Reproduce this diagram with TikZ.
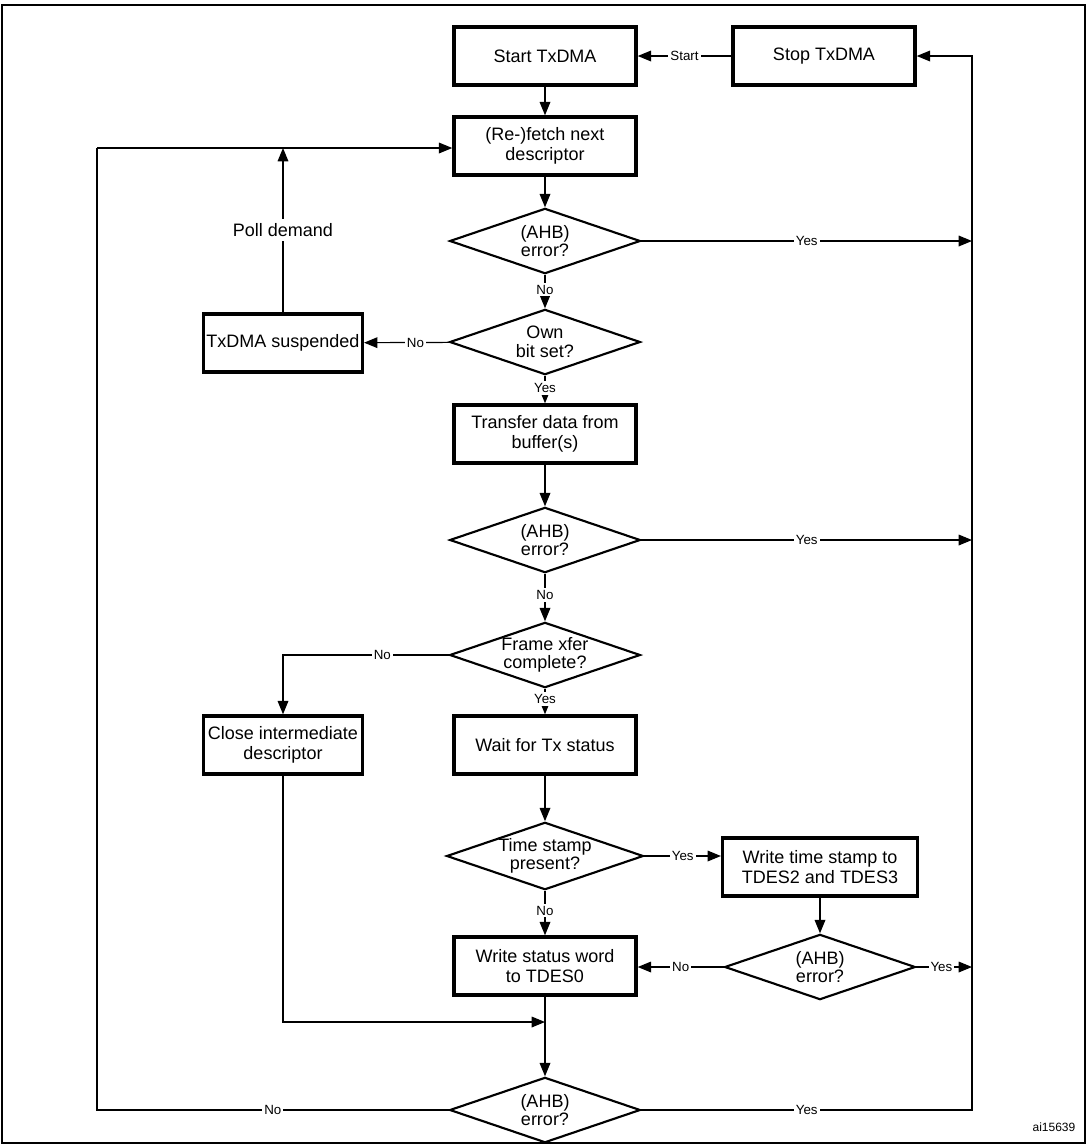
\documentclass[tikz,border=0pt]{standalone}
\usepackage{fontspec}
\setmainfont{Liberation Sans}
\usetikzlibrary{shapes.geometric,arrows.meta}
\begin{document}
\begin{tikzpicture}[x=0.75pt,y=-0.75pt,
 box/.style={draw,line width=2.6pt,minimum width=136.5pt,minimum height=43.5pt,align=center,font=\fontsize{13.5}{15}\selectfont,inner sep=1pt},
 dia/.style={draw,line width=1.6pt,shape=diamond,aspect=2.92,minimum width=143pt,minimum height=49pt,inner sep=0pt,align=center,font=\fontsize{13.5}{14}\selectfont},
 con/.style={line width=0.9pt},
 arr/.style={con,-{Triangle[length=10pt,width=8pt]}},
 lab/.style={fill=white,inner sep=1.5pt,font=\fontsize{10}{11}\selectfont}]
\useasboundingbox (0,0) rectangle (1087,1147);
\draw[line width=1.2pt] (2,5) rectangle (1085,1143);
\node[box] (start) at (545,56) {Start TxDMA};
\node[box] (stop) at (824,56) {Stop TxDMA};
\node[box] (fetch) at (545,146) {(Re-)fetch next\\descriptor};
\node[dia] (d1) at (545,241) {(AHB)\\error?};
\node[dia] (d2) at (545,342) {Own\\bit set?};
\node[box,minimum width=119pt] (susp) at (283,343) {TxDMA suspended};
\node[box] (xfer) at (545,434) {Transfer data from\\buffer(s)};
\node[dia] (d3) at (545,540) {(AHB)\\error?};
\node[dia] (d4) at (545,655) {Frame xfer\\complete?};
\node[box,minimum width=119pt] (close) at (283,745) {Close intermediate\\descriptor};
\node[box] (wait) at (545,745) {Wait for Tx status};
\node[dia] (d5) at (545,856) {Time stamp\\present?};
\node[box,minimum width=146pt] (wts) at (820,867) {Write time stamp to\\TDES2 and TDES3};
\node[dia] (d6) at (820,967) {(AHB)\\error?};
\node[box] (wsw) at (545,966) {Write status word\\to TDES0};
\node[dia] (d7) at (545,1110) {(AHB)\\error?};
\coordinate (r) at (972,56);
\coordinate (poll) at (283,148);
\coordinate (lb) at (97,1110);
\coordinate (lt) at (97,148);
\coordinate (cj) at (283,1022);
\coordinate (mj) at (545,1022);
\node[font=\fontsize{9}{10}\selectfont,anchor=east] (ai) at (1080,1127) {ai15639};
% main flow
\draw[arr] (stop) -- node[lab]{Start} (start);
\draw[arr] (start) -- (fetch);
\draw[arr] (fetch) -- (d1);
\draw[arr] (d1) -- node[lab,pos=0.45]{No} (d2);
\draw[arr] (d2) -- node[lab,pos=0.45]{Yes} (xfer);
\draw[arr] (xfer) -- (d3);
\draw[arr] (d3) -- node[lab,pos=0.45]{No} (d4);
\draw[arr] (d4) -- node[lab,pos=0.4]{Yes} (wait);
\draw[arr] (wait) -- (d5);
\draw[arr] (d5) -- node[lab,pos=0.45]{No} (wsw);
\draw[arr] (d5.east) -- node[lab,pos=0.5]{Yes} (d5.east -| wts.west);
\draw[arr] (wts) -- (d6);
\draw[arr] (d6.west) -- node[lab,pos=0.5]{No} (d6.west -| wsw.east);
\draw[arr] (d6.east) -- node[lab,pos=0.45]{Yes} (d6.east -| r);
\draw[arr] (d1.east) -- node[lab]{Yes} (d1.east -| r);
\draw[arr] (d3.east) -- node[lab]{Yes} (d3.east -| r);
\draw[arr] (d2) -- node[lab,pos=0.4]{No} (susp);
\draw[arr] (susp) -- node[pos=0.5,font=\fontsize{13.5}{14}\selectfont,fill=white]{Poll demand} (poll);
\draw[arr] (d4.west) -- node[lab,pos=0.4]{No} (d4.west -| close) -- (close);
\draw[con] (wsw) -- (mj);
\draw[arr] (close) -- (cj) -- (mj);
\draw[arr] (mj) -- (d7);
\draw[con] (d7.west) -- node[lab]{No} (lb) -- (lt);
\draw[arr] (lt) -- (fetch.west |- lt);
\draw[arr] (d7.east) -- node[lab]{Yes} (d7.east -| r) -- (r) -- (stop);
\end{tikzpicture}
\end{document}
